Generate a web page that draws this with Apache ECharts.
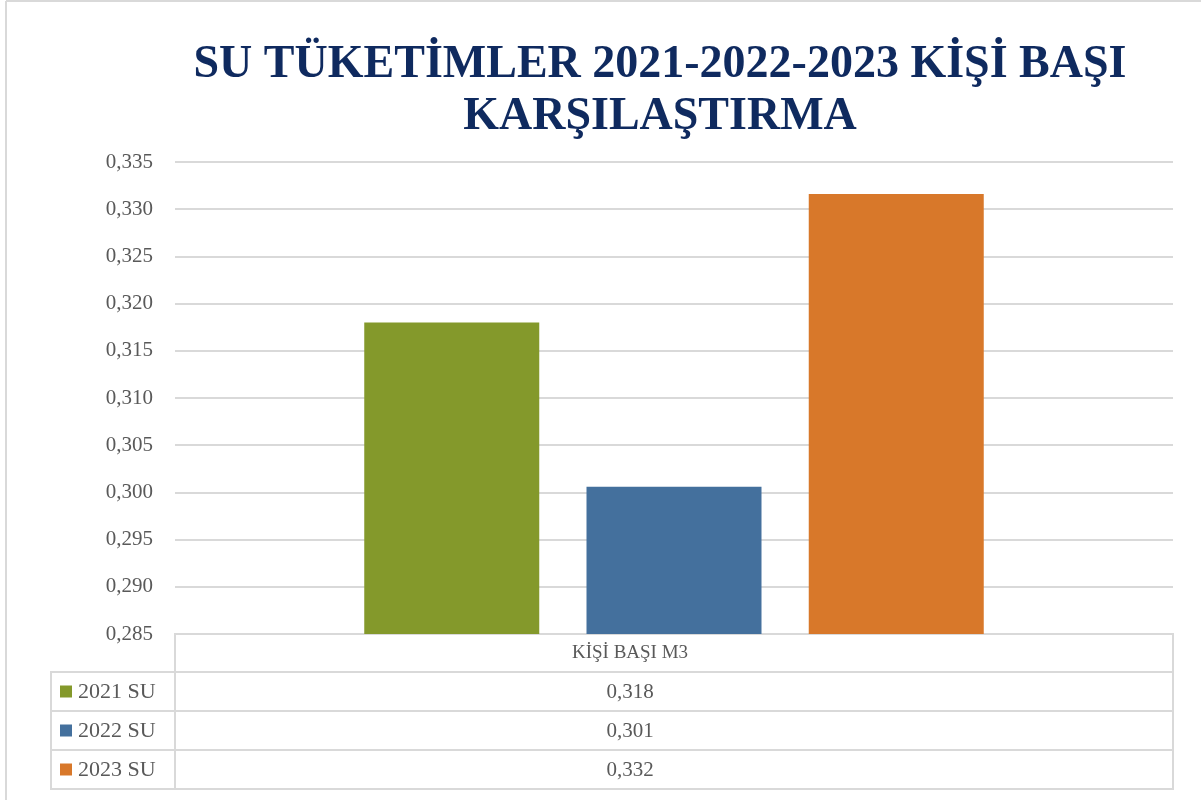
<!DOCTYPE html>
<html>
<head>
<meta charset="utf-8">
<style>
  html, body { margin: 0; padding: 0; background: #fff; }
  #chart { width: 1201px; height: 800px; }
</style>
<script src="https://cdn.jsdelivr.net/npm/echarts@6/dist/echarts.min.js"></script>
</head>
<body>
<div id="chart"></div>
<script>
// veriler
var categories = ['KİŞİ BAŞI M3'];
var seriesNames = ['2021 SU', '2022 SU', '2023 SU'];
var seriesValues = [0.318, 0.3006, 0.3316];
var colors = ['#84992b', '#44709d', '#d8782a'];
var yTicks = [0.285, 0.290, 0.295, 0.300, 0.305, 0.310, 0.315, 0.320, 0.325, 0.330, 0.335];

var chart = echarts.init(document.getElementById('chart'));

var fmt = function (v) {
  return (Math.round(v * 1000) / 1000).toFixed(3).replace('.', ',');
};

// tablo (veri tablosu) - Excel tarzı
var lineColor = '#d9d9d9';
var textColor = '#595959';
var serif = "'Liberation Serif', 'DejaVu Serif', serif";
var plotLeft = 175, plotRight = 1173;
var headTop = 634, headBottom = 672, rowH = 39, legendLeft = 51;

var graphics = [
  // dış çerçeve
  { type: 'line', shape: { x1: 6, y1: 1, x2: 1201, y2: 1 }, style: { stroke: lineColor, lineWidth: 2 } },
  { type: 'line', shape: { x1: 6, y1: 1, x2: 6, y2: 800 }, style: { stroke: lineColor, lineWidth: 2 } },
  // başlık satırı
  { type: 'rect', shape: { x: plotLeft, y: headTop, width: plotRight - plotLeft, height: headBottom - headTop },
    style: { fill: 'none', stroke: lineColor, lineWidth: 2 } },
  { type: 'text', x: 630, y: (headTop + headBottom) / 2,
    style: { text: categories[0], font: '19px ' + serif, fill: textColor, align: 'center', verticalAlign: 'middle' } }
];

seriesNames.forEach(function (name, i) {
  var top = headBottom + i * rowH;
  graphics.push(
    { type: 'rect', shape: { x: legendLeft, y: top, width: plotLeft - legendLeft, height: rowH },
      style: { fill: 'none', stroke: lineColor, lineWidth: 2 } },
    { type: 'rect', shape: { x: plotLeft, y: top, width: plotRight - plotLeft, height: rowH },
      style: { fill: 'none', stroke: lineColor, lineWidth: 2 } },
    { type: 'rect', shape: { x: 60, y: top + rowH / 2 - 6, width: 12, height: 12 },
      style: { fill: colors[i] } },
    { type: 'text', x: 78, y: top + rowH / 2 + 1,
      style: { text: name, font: '22px ' + serif, fill: textColor, verticalAlign: 'middle' } },
    { type: 'text', x: 630, y: top + rowH / 2 + 1,
      style: { text: fmt(seriesValues[i]), font: '21px ' + serif, fill: textColor, align: 'center', verticalAlign: 'middle' } }
  );
});

var option = {
  backgroundColor: '#ffffff',
  animation: false,
  color: colors,
  title: {
    text: 'SU TÜKETİMLER 2021-2022-2023 KİŞİ BAŞI\nKARŞILAŞTIRMA',
    left: 655,
    top: 34,
    textAlign: 'center',
    textStyle: {
      fontFamily: serif,
      fontWeight: 'bold',
      fontSize: 46,
      lineHeight: 52,
      color: '#0f2a5f'
    }
  },
  grid: {
    left: plotLeft,
    right: 1201 - plotRight,
    top: 162,
    bottom: 800 - headTop,
    containLabel: false
  },
  xAxis: {
    type: 'category',
    data: categories,
    axisLine: { show: false },
    axisTick: { show: false },
    axisLabel: { show: false }
  },
  yAxis: {
    type: 'value',
    min: yTicks[0],
    max: yTicks[yTicks.length - 1],
    interval: 0.005,
    axisLine: { show: false },
    axisTick: { show: false },
    axisLabel: {
      margin: 22,
      color: textColor,
      fontFamily: serif,
      fontSize: 21,
      formatter: fmt
    },
    splitLine: { lineStyle: { color: lineColor, width: 2 } }
  },
  series: seriesNames.map(function (name, i) {
    return {
      name: name,
      type: 'bar',
      data: [seriesValues[i]],
      barWidth: 175,
      barGap: '27%',
      itemStyle: { color: colors[i] }
    };
  }),
  graphic: graphics
};

chart.setOption(option);
</script>
</body>
</html>
